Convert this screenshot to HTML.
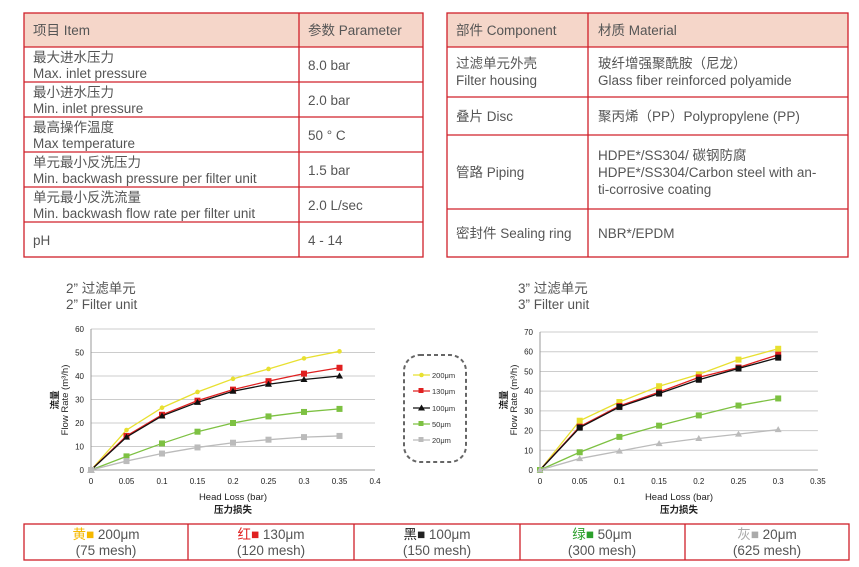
<!DOCTYPE html>
<html><head><meta charset="utf-8"><style>
body{margin:0;width:859px;height:567px;background:#fff;overflow:hidden;font-family:"Liberation Sans","Noto Sans CJK SC",sans-serif;color:#555}
svg{position:absolute;left:0;top:0}
</style></head><body>
<svg id="s" width="859" height="567" xmlns="http://www.w3.org/2000/svg" font-family="Liberation Sans, Noto Sans CJK SC, sans-serif">
<g fill="#f5d6c9"><rect x="24" y="13" width="399" height="34"/><rect x="447" y="13" width="401" height="34"/></g>
<g stroke="#d0202a" stroke-width="1.3" fill="none">
<rect x="24" y="13" width="399" height="244"/>
<line x1="299" y1="13" x2="299" y2="257"/>
<line x1="24" y1="47" x2="423" y2="47"/><line x1="24" y1="82" x2="423" y2="82"/><line x1="24" y1="117" x2="423" y2="117"/><line x1="24" y1="152" x2="423" y2="152"/><line x1="24" y1="187" x2="423" y2="187"/><line x1="24" y1="222" x2="423" y2="222"/>
<rect x="447" y="13" width="401" height="244"/>
<line x1="588" y1="13" x2="588" y2="257"/>
<line x1="447" y1="47" x2="848" y2="47"/><line x1="447" y1="97" x2="848" y2="97"/><line x1="447" y1="135" x2="848" y2="135"/><line x1="447" y1="209" x2="848" y2="209"/>
<rect x="24" y="524" width="825" height="36"/>
<line x1="188" y1="524" x2="188" y2="560"/><line x1="354" y1="524" x2="354" y2="560"/><line x1="520" y1="524" x2="520" y2="560"/><line x1="685" y1="524" x2="685" y2="560"/>
</g>
<g fill="#555" font-size="13.5">
<text x="33" y="35">项目 Item</text><text x="308" y="35">参数 Parameter</text>
<text x="33" y="62">最大进水压力</text><text x="33" y="78">Max. inlet pressure</text><text x="308" y="70">8.0 bar</text>
<text x="33" y="97">最小进水压力</text><text x="33" y="113">Min. inlet pressure</text><text x="308" y="105">2.0 bar</text>
<text x="33" y="132">最高操作温度</text><text x="33" y="148">Max temperature</text><text x="308" y="140">50 ° C</text>
<text x="33" y="167">单元最小反洗压力</text><text x="33" y="183">Min. backwash pressure per filter unit</text><text x="308" y="175">1.5 bar</text>
<text x="33" y="202">单元最小反洗流量</text><text x="33" y="218">Min. backwash flow rate per filter unit</text><text x="308" y="210">2.0 L/sec</text>
<text x="33" y="245">pH</text><text x="308" y="245">4 - 14</text>
<text x="456" y="35">部件 Component</text><text x="598" y="35">材质 Material</text>
<text x="456" y="68">过滤单元外壳</text><text x="456" y="85">Filter housing</text><text x="598" y="68">玻纤增强聚酰胺（尼龙）</text><text x="598" y="85">Glass fiber reinforced polyamide</text>
<text x="456" y="121">叠片 Disc</text><text x="598" y="121">聚丙烯（PP）Polypropylene (PP)</text>
<text x="456" y="177">管路 Piping</text><text x="598" y="160">HDPE*/SS304/ 碳钢防腐</text><text x="598" y="177">HDPE*/SS304/Carbon steel with an-</text><text x="598" y="194">ti-corrosive coating</text>
<text x="456" y="238">密封件 Sealing ring</text><text x="598" y="238">NBR*/EPDM</text>
<text x="66" y="293">2”  过滤单元</text><text x="66" y="309">2”  Filter unit</text>
<text x="518" y="293">3”  过滤单元</text><text x="518" y="309">3”  Filter unit</text>
</g>
<g font-size="13.5" text-anchor="middle">
<text x="106" y="539"><tspan fill="#f5b800">黄■</tspan><tspan fill="#555"> 200μm</tspan></text><text x="106" y="555" fill="#555">(75 mesh)</text>
<text x="271" y="539"><tspan fill="#e02020">红■</tspan><tspan fill="#555"> 130μm</tspan></text><text x="271" y="555" fill="#555">(120 mesh)</text>
<text x="437" y="539"><tspan fill="#222">黑■</tspan><tspan fill="#555"> 100μm</tspan></text><text x="437" y="555" fill="#555">(150 mesh)</text>
<text x="602" y="539"><tspan fill="#2ca02c">绿■</tspan><tspan fill="#555"> 50μm</tspan></text><text x="602" y="555" fill="#555">(300 mesh)</text>
<text x="767" y="539"><tspan fill="#aaa">灰■</tspan><tspan fill="#555"> 20μm</tspan></text><text x="767" y="555" fill="#555">(625 mesh)</text>
</g>
<g font-size="9.5" fill="#222" text-anchor="middle">
<text x="233" y="500">Head Loss (bar)</text><text x="233" y="513" font-weight="bold">压力损失</text>
<text x="679" y="500">Head Loss (bar)</text><text x="679" y="513" font-weight="bold">压力损失</text>
<text transform="translate(58,400) rotate(-90)" font-weight="bold">流量</text>
<text transform="translate(68,400) rotate(-90)">Flow Rate (m³/h)</text>
<text transform="translate(507,400) rotate(-90)" font-weight="bold">流量</text>
<text transform="translate(517,400) rotate(-90)">Flow Rate (m³/h)</text>
</g>
<rect x="404" y="355" width="62" height="107" rx="16" fill="none" stroke="#666" stroke-width="2" stroke-dasharray="4,3"/>
<g font-size="7.5" fill="#333">
<text x="432" y="378">200μm</text><text x="432" y="394">130μm</text><text x="432" y="411">100μm</text><text x="432" y="427">50μm</text><text x="432" y="443">20μm</text>
</g>
<g id="g"></g>
</svg>
<script>
var g=document.getElementById('g'),h='';
var C=['#e8e030','#e02020','#111','#7dc142','#bbb'];
function chart(x0,xs,xmax,xstep,ymax,ystep,yp,data,mk){
 var y0=470,r=yp/ystep;
 for(var v=0;v<=ymax;v+=ystep){var y=y0-v*r;h+='<line x1="'+x0+'" y1="'+y+'" x2="'+(x0+xmax*xs)+'" y2="'+y+'" stroke="'+(v?'#ccc':'#999')+'" stroke-width="1"/>';h+='<text x="'+(x0-7)+'" y="'+(y+3)+'" font-size="8" fill="#222" text-anchor="end">'+v+'</text>';}
 h+='<line x1="'+x0+'" y1="'+(y0-ymax*r)+'" x2="'+x0+'" y2="'+y0+'" stroke="#999"/>';
 for(var i=0;i<=Math.round(xmax/xstep);i++){var x=x0+i*xstep*xs;h+='<text x="'+x+'" y="484" font-size="8" fill="#222" text-anchor="middle">'+(+(i*xstep).toFixed(2))+'</text>';}
 data.forEach(function(d,k){var p=d.map(function(v,i){return [x0+i*0.05*xs,y0-v*r]});
  h+='<polyline fill="none" stroke="'+C[k]+'" stroke-width="1.3" points="'+p.map(function(q){return q.join(',')}).join(' ')+'"/>';
  p.forEach(function(q){h+=marker(q[0],q[1],mk[k],C[k])});});
}
function marker(x,y,t,c){
 if(t=='t')return '<polygon points="'+x+','+(y-3.5)+' '+(x-3.5)+','+(y+2.5)+' '+(x+3.5)+','+(y+2.5)+'" fill="'+c+'"/>';
 if(t=='d')return '<circle cx="'+x+'" cy="'+y+'" r="2.3" fill="'+c+'"/>';
 return '<rect x="'+(x-3)+'" y="'+(y-3)+'" width="6" height="6" fill="'+c+'"/>';
}
chart(91,710,0.4,0.05,60,10,23.5,[
[0,17,26.5,33.2,38.8,43,47.5,50.5],[0,14.5,23.5,29.5,34.2,37.8,41,43.5],[0,14,23,28.8,33.5,36.5,38.5,40],[0,5.8,11.3,16.3,20,22.8,24.7,26],[0,3.8,7,9.6,11.6,12.9,14,14.5]],['d','s','t','s','s']);
chart(540,794,0.35,0.05,70,10,19.71,[
[0,25,34.5,42.5,48.5,56,61.5],[0,22,32.5,39.5,47,52,58.5],[0,21.5,32,38.8,45.8,51.5,57],[0,9,16.8,22.5,27.7,32.7,36.3],[0,5.8,9.6,13.4,16,18.2,20.5]],['s','s','s','s','t']);
var ly=[375,391,408,424,440];
ly.forEach(function(y,k){h+='<line x1="413" y1="'+y+'" x2="430" y2="'+y+'" stroke="'+C[k]+'" stroke-width="1.3"/>'+marker(421.5,y,['d','s','t','s','s'][k],C[k]).replace(/width="6" height="6"/,'width="5" height="5"');});
g.innerHTML=h;
</script>
</body></html>
